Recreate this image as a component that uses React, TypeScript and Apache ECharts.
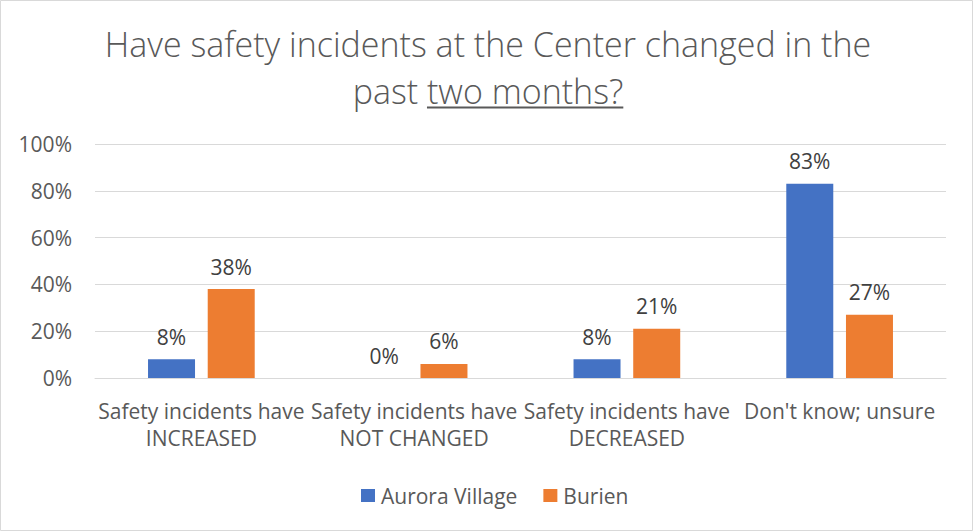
import React, { useEffect, useRef } from "react";
import * as echarts from "echarts";

const categories = [
  "Safety incidents have\nINCREASED",
  "Safety incidents have\nNOT CHANGED",
  "Safety incidents have\nDECREASED",
  "Don't know; unsure",
];
const auroraVillage = [8, 0, 8, 83];
const burien = [38, 6, 21, 27];
const seriesNames = ["Aurora Village", "Burien"];
const titleLine1 = "Have safety incidents at the Center changed in the";
const titleLine2a = "past ";
const titleLine2b = "two months?";

const FONT = "'Open Sans', sans-serif";
const TXT = "#595959";
const TITLE_SIZE = 34;
const LABEL_SIZE = 21;

function measure(text: string, size: number, weight: string) {
  const c = document.createElement("canvas").getContext("2d")!;
  c.font = `${weight} ${size}px 'Open Sans', sans-serif`;
  return c.measureText(text).width;
}

export default function App() {
  const ref = useRef<HTMLDivElement>(null);
  useEffect(() => {
    document.body.style.margin = "0";
    const chart = echarts.init(ref.current!, null, { renderer: "svg" });
    const cx = 488;
    const w1 = measure(titleLine2a, TITLE_SIZE, "300");
    const w2 = measure(titleLine2b, TITLE_SIZE, "300");
    const start = cx - (w1 + w2) / 2;
    const titleStyle = {
      fontFamily: FONT,
      fontSize: TITLE_SIZE,
      fontWeight: 300,
      fill: TXT,
      align: "center",
      verticalAlign: "bottom",
    };
    const dataLabel = {
      show: true,
      position: "top",
      distance: 12,
      formatter: "{c}%",
      fontFamily: FONT,
      fontSize: LABEL_SIZE,
      color: "#404040",
    };
    chart.setOption({
      animation: false,
      backgroundColor: "#ffffff",
      textStyle: { fontFamily: FONT },
      graphic: [
        {
          type: "rect",
          shape: { x: 0.5, y: 0.5, width: 972, height: 530 },
          style: { fill: "none", stroke: "#d9d9d9", lineWidth: 1 },
          z: 100,
        },
        {
          type: "text",
          x: cx,
          y: 61,
          style: { ...titleStyle, text: titleLine1 },
        },
        {
          type: "text",
          x: cx,
          y: 108,
          style: { ...titleStyle, text: titleLine2a + titleLine2b },
        },
        {
          type: "line",
          shape: { x1: start + w1, y1: 107.5, x2: start + w1 + w2, y2: 107.5 },
          style: { stroke: TXT, lineWidth: 2 },
        },
      ],
      legend: {
        top: 480,
        left: 356,
        itemWidth: 14,
        itemHeight: 13,
        itemGap: 26,
        icon: "rect",
        textStyle: { fontFamily: FONT, fontSize: LABEL_SIZE, color: TXT, padding: [0, 0, 0, 1] },
        data: seriesNames,
      },
      grid: { left: 95, right: 27, top: 144, bottom: 153 },
      xAxis: {
        type: "category",
        data: categories,
        axisLine: { lineStyle: { color: "#d9d9d9", width: 1 } },
        axisTick: { show: false },
        axisLabel: {
          interval: 0,
          fontFamily: FONT,
          fontSize: LABEL_SIZE,
          color: TXT,
          lineHeight: 27,
          margin: 19,
        },
      },
      yAxis: {
        type: "value",
        min: 0,
        max: 100,
        interval: 20,
        axisLabel: {
          formatter: "{value}%",
          fontFamily: FONT,
          fontSize: LABEL_SIZE,
          color: TXT,
          margin: 23,
        },
        splitLine: { lineStyle: { color: "#d9d9d9", width: 1 } },
        axisLine: { show: false },
        axisTick: { show: false },
      },
      series: [
        {
          name: seriesNames[0],
          type: "bar",
          data: auroraVillage,
          barWidth: 47,
          barGap: "27%",
          itemStyle: { color: "#4472C4" },
          label: dataLabel,
        },
        {
          name: seriesNames[1],
          type: "bar",
          data: burien,
          barWidth: 47,
          itemStyle: { color: "#ED7D31" },
          label: dataLabel,
        },
      ],
    });
    return () => chart.dispose();
  }, []);
  return (
    <div
      ref={ref}
      style={{ position: "absolute", left: 0, top: 0, width: 973, height: 531 }}
    />
  );
}
